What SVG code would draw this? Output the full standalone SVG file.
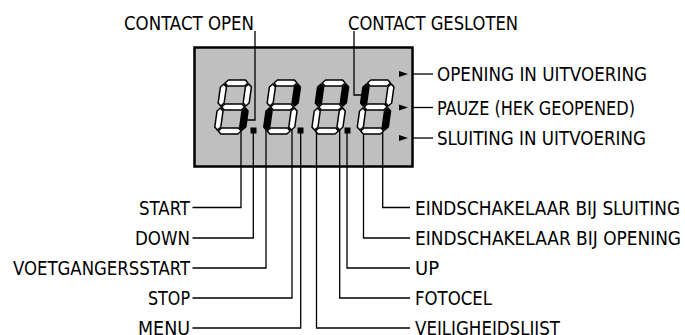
<svg xmlns="http://www.w3.org/2000/svg" xmlns:xlink="http://www.w3.org/1999/xlink" width="685" height="335" viewBox="0 0 685 335">
<style>
  .lbl { font-family: "Liberation Sans Narrow", "DejaVu Sans Condensed", "Liberation Sans", sans-serif; font-size: 20px; fill: #000; }
  .end { text-anchor: end; }
  .ln { fill: none; stroke: #000; stroke-width: 1.3; }
  .off { fill: #fff; stroke: #000; stroke-width: 1.5; stroke-linejoin: round; }
  .on { fill: #000; stroke: #000; stroke-width: 1.5; stroke-linejoin: round; }
  .dot { fill: #000; }
  .arr { fill: #000; }
</style>
<defs>
  <path id="sa" d="M4,-51 L7,-54 L24,-54 L27,-51 L24,-48 L7,-48 Z"/>
  <path id="sb" d="M28,-50 L31,-47 L31,-31 L28,-28 L25,-31 L25,-47 Z"/>
  <path id="sc" d="M28,-26 L31,-23 L31,-7 L28,-4 L25,-7 L25,-23 Z"/>
  <path id="sd" d="M4,-3 L7,-6 L24,-6 L27,-3 L24,0 L7,0 Z"/>
  <path id="se" d="M3,-26 L6,-23 L6,-7 L3,-4 L0,-7 L0,-23 Z"/>
  <path id="sf" d="M3,-50 L6,-47 L6,-31 L3,-28 L0,-31 L0,-47 Z"/>
  <path id="sg" d="M4,-27 L7,-30 L24,-30 L27,-27 L24,-24 L7,-24 Z"/>
</defs>

<g id="display">
  <rect x="194.5" y="47.5" width="218" height="119" fill="#bfbfbf" stroke="#000" stroke-width="2.5"/>
</g>

<g id="connectors">
  <path class="ln" d="M255,31 V120 H244"/>
  <path class="ln" d="M354,31 V95 H365"/>
  <path class="ln" d="M241,126 V207.5 H192.5"/>
  <path class="ln" d="M253.3,131 V238 H192.5"/>
  <path class="ln" d="M266,126 V268 H192.5"/>
  <path class="ln" d="M292,126 V298 H192.5"/>
  <path class="ln" d="M300.7,131 V328 H192.5"/>
  <path class="ln" d="M316.5,126 V328 H410"/>
  <path class="ln" d="M339.7,126 V298 H410"/>
  <path class="ln" d="M347,131 V268 H410"/>
  <path class="ln" d="M363.5,122 V238 H410"/>
  <path class="ln" d="M382.7,126 V207.5 H410"/>
  <path class="ln" d="M413,74 H433"/>
  <path class="ln" d="M413,107.5 H433"/>
  <path class="ln" d="M413,138 H433"/>
</g>

<g id="digit1" transform="translate(213.8,134) skewX(-8)">
  <use xlink:href="#sa" class="off"/><use xlink:href="#sb" class="off"/><use xlink:href="#sc" class="on"/>
  <use xlink:href="#sd" class="off"/><use xlink:href="#se" class="off"/><use xlink:href="#sf" class="off"/><use xlink:href="#sg" class="off"/>
</g>
<g id="digit2" transform="translate(262.8,134) skewX(-8)">
  <use xlink:href="#sa" class="off"/><use xlink:href="#sb" class="on"/><use xlink:href="#sc" class="off"/>
  <use xlink:href="#sd" class="off"/><use xlink:href="#se" class="on"/><use xlink:href="#sf" class="off"/><use xlink:href="#sg" class="off"/>
</g>
<g id="digit3" transform="translate(311,134) skewX(-8)">
  <use xlink:href="#sa" class="off"/><use xlink:href="#sb" class="on"/><use xlink:href="#sc" class="off"/>
  <use xlink:href="#sd" class="off"/><use xlink:href="#se" class="off"/><use xlink:href="#sf" class="on"/><use xlink:href="#sg" class="off"/>
</g>
<g id="digit4" transform="translate(356.3,134) skewX(-8)">
  <use xlink:href="#sa" class="off"/><use xlink:href="#sb" class="off"/><use xlink:href="#sc" class="on"/>
  <use xlink:href="#sd" class="off"/><use xlink:href="#se" class="off"/><use xlink:href="#sf" class="on"/><use xlink:href="#sg" class="off"/>
</g>
<g id="dots">
  <rect class="dot" x="250.5" y="127.5" width="6" height="6"/>
  <rect class="dot" x="297.5" y="127.5" width="6" height="6"/>
  <rect class="dot" x="344.5" y="127.5" width="6" height="6"/>
</g>
<g id="arrows">
  <polygon class="arr" points="399,71 408,74 399,77"/>
  <polygon class="arr" points="399,104.5 408,107.5 399,110.5"/>
  <polygon class="arr" points="399,135 408,138 399,141"/>
</g>

<g id="label-contact-open"><text class="lbl" x="124" y="29.5" textLength="130" lengthAdjust="spacingAndGlyphs">CONTACT OPEN</text></g>
<g id="label-contact-gesloten"><text class="lbl" x="348" y="29.5" textLength="170" lengthAdjust="spacingAndGlyphs">CONTACT GESLOTEN</text></g>
<g id="label-opening"><text class="lbl" x="437" y="81.3" textLength="210" lengthAdjust="spacingAndGlyphs">OPENING IN UITVOERING</text></g>
<g id="label-pauze"><text class="lbl" x="437" y="114.8" textLength="198" lengthAdjust="spacingAndGlyphs">PAUZE (HEK GEOPENED)</text></g>
<g id="label-sluiting"><text class="lbl" x="437" y="145.3" textLength="209" lengthAdjust="spacingAndGlyphs">SLUITING IN UITVOERING</text></g>

<g id="label-start"><text class="lbl end" x="190" y="214.8" textLength="51" lengthAdjust="spacingAndGlyphs">START</text></g>
<g id="label-down"><text class="lbl end" x="190" y="245.3" textLength="55" lengthAdjust="spacingAndGlyphs">DOWN</text></g>
<g id="label-voetgangersstart"><text class="lbl end" x="190" y="275.3" textLength="177" lengthAdjust="spacingAndGlyphs">VOETGANGERSSTART</text></g>
<g id="label-stop"><text class="lbl end" x="190" y="305.3" textLength="42" lengthAdjust="spacingAndGlyphs">STOP</text></g>
<g id="label-menu"><text class="lbl end" x="190" y="335" textLength="52" lengthAdjust="spacingAndGlyphs">MENU</text></g>

<g id="label-eind-sluiting"><text class="lbl" x="415" y="214.8" textLength="265" lengthAdjust="spacingAndGlyphs">EINDSCHAKELAAR BIJ SLUITING</text></g>
<g id="label-eind-opening"><text class="lbl" x="415" y="245.3" textLength="266" lengthAdjust="spacingAndGlyphs">EINDSCHAKELAAR BIJ OPENING</text></g>
<g id="label-up"><text class="lbl" x="415" y="275.3">UP</text></g>
<g id="label-fotocel"><text class="lbl" x="415" y="305.3" textLength="77" lengthAdjust="spacingAndGlyphs">FOTOCEL</text></g>
<g id="label-veiligheidslijst"><text class="lbl" x="415" y="335" textLength="145" lengthAdjust="spacingAndGlyphs">VEILIGHEIDSLIJST</text></g>
</svg>
